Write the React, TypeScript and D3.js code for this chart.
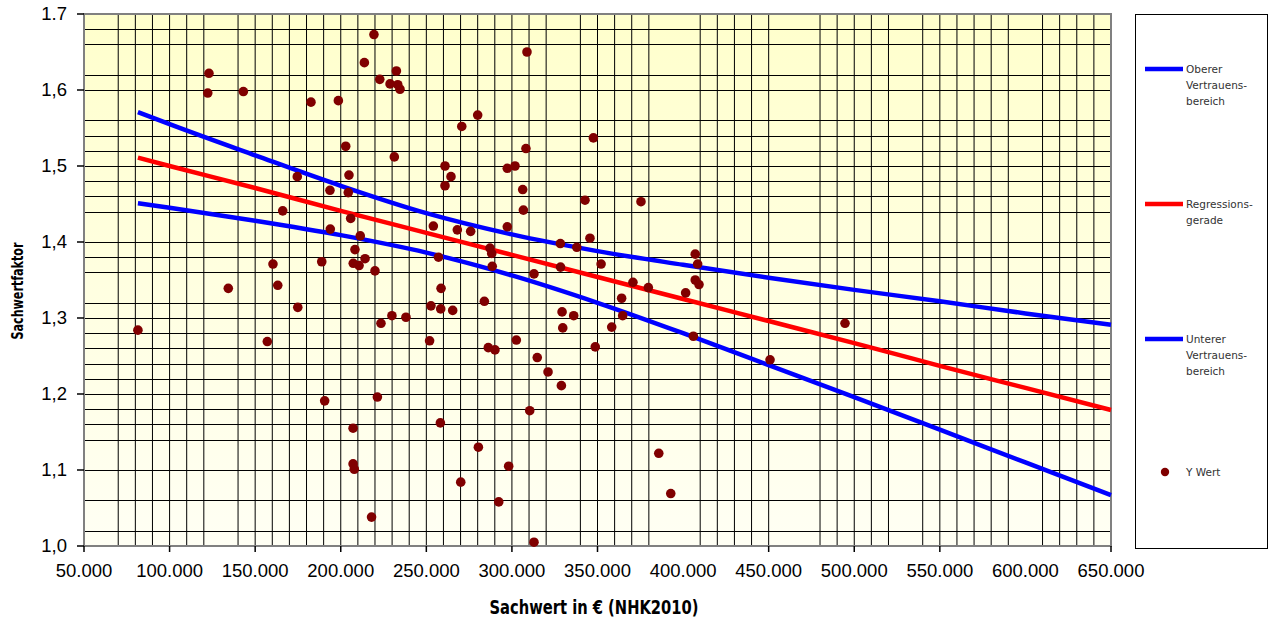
import React from 'react';
import * as d3 from 'd3';

// ---- data ----
const sachwert = [
  81500, 123000, 122300, 143100, 134300, 157100, 160400, 163200, 166100, 174600,
  174900, 182600, 188900, 190600, 193700, 193900, 198600, 219400, 213800, 232500,
  222800, 228800, 233300, 234600, 202900, 231300, 204800, 204400, 205800, 211400,
  208300, 214200, 207300, 210700, 220000, 252700, 223500, 229900, 238100, 251900,
  221400, 207200, 207200, 207900, 218000, 308800, 280000, 270700, 347600, 308200,
  260900, 264400, 260900, 297300, 301800, 306300, 306700, 342700, 375400, 254100,
  268100, 275900, 297300, 328300, 337900, 345600, 287200, 288200, 257100, 288500,
  328400, 352100, 407100, 408500, 312900, 258600, 258400, 265400, 283900, 370700,
  379700, 407100, 409300, 401500, 364100, 329300, 336100, 364700, 329700, 358300,
  406000, 302600, 286200, 290100, 348700, 314800, 321100, 328900, 310400, 258200,
  280400, 298100, 270100, 292300, 385800, 392800, 312900, 450800, 494600,
];
const faktor = [
  1.284, 1.622, 1.596, 1.598, 1.339, 1.269, 1.371, 1.343, 1.441, 1.486,
  1.314, 1.584, 1.374, 1.191, 1.468, 1.417, 1.586, 1.673, 1.636, 1.625,
  1.614, 1.608, 1.607, 1.601, 1.526, 1.512, 1.488, 1.465, 1.431, 1.408,
  1.390, 1.378, 1.372, 1.369, 1.362, 1.316, 1.293, 1.303, 1.301, 1.270,
  1.196, 1.155, 1.108, 1.101, 1.038, 1.650, 1.567, 1.552, 1.537, 1.523,
  1.500, 1.486, 1.474, 1.497, 1.500, 1.469, 1.442, 1.455, 1.453, 1.421,
  1.416, 1.414, 1.420, 1.398, 1.393, 1.405, 1.392, 1.385, 1.380, 1.368,
  1.367, 1.371, 1.384, 1.371, 1.358, 1.339, 1.312, 1.310, 1.322, 1.347,
  1.340, 1.350, 1.344, 1.333, 1.326, 1.308, 1.303, 1.303, 1.287, 1.288,
  1.276, 1.271, 1.261, 1.258, 1.262, 1.248, 1.229, 1.211, 1.178, 1.162,
  1.130, 1.105, 1.084, 1.058, 1.122, 1.069, 1.005, 1.245, 1.293,
];

const lineX = [81500, 100000, 150000, 200000, 250000, 300000, 350000, 400000, 450000, 500000, 550000, 600000, 650000];
const regression = [1.511, 1.500, 1.471, 1.441, 1.412, 1.383, 1.354, 1.325, 1.296, 1.267, 1.237, 1.208, 1.179];
const upperBound = [1.571, 1.555, 1.514, 1.474, 1.438, 1.410, 1.388, 1.370, 1.353, 1.337, 1.322, 1.306, 1.291];
const lowerBound = [1.451, 1.445, 1.428, 1.409, 1.386, 1.356, 1.320, 1.280, 1.238, 1.196, 1.153, 1.110, 1.067];

const xTickValues = [50000, 100000, 150000, 200000, 250000, 300000, 350000, 400000, 450000, 500000, 550000, 600000, 650000];
const xTickLabels = ['50.000', '100.000', '150.000', '200.000', '250.000', '300.000', '350.000', '400.000', '450.000', '500.000', '550.000', '600.000', '650.000'];
const xTickMarksHidden = [400000, 600000];
const yTickValues = [1.0, 1.1, 1.2, 1.3, 1.4, 1.5, 1.6, 1.7];
const yTickLabels = ['1,0', '1,1', '1,2', '1,3', '1,4', '1,5', '1,6', '1.7'];

const xGridStep = 10000;
const xGridMissing = [60000, 130000, 330000, 390000, 400000, 460000, 470000, 530000, 600000];
const yGridStep = 0.02;
const yGridMissing = [1.64, 1.58, 1.42, 1.34, 1.12, 1.08, 1.04];

const legendItems = [
  { kind: 'line', color: '#0000FF', lines: ['Oberer', 'Vertrauens-', 'bereich'] },
  { kind: 'line', color: '#FF0000', lines: ['Regressions-', 'gerade'] },
  { kind: 'line', color: '#0000FF', lines: ['Unterer', 'Vertrauens-', 'bereich'] },
  { kind: 'dot', color: '#800000', lines: ['Y Wert'] },
];
const legendY = [69, 204, 339, 472];

const W = 1270;
const H = 621;
const plot = { left: 84, right: 1111, top: 14, bottom: 546 };

export default function App() {
  const x = d3.scaleLinear().domain([50000, 650000]).range([plot.left, plot.right]);
  const y = d3.scaleLinear().domain([1.0, 1.7]).range([plot.bottom, plot.top]);

  const xGrid = d3
    .range(50000 + xGridStep, 650000, xGridStep)
    .filter((v) => !xGridMissing.some((m) => Math.abs(m - v) < 1));
  const yGrid = d3
    .range(0, 35)
    .map((k) => +(1.0 + k * yGridStep).toFixed(2))
    .filter((v) => v > 1.0 && !yGridMissing.some((m) => Math.abs(m - v) < 1e-6));

  const mkLine = (vals: number[]) =>
    d3
      .line<number>()
      .x((_, i) => x(lineX[i]))
      .y((d) => y(d))
      .curve(d3.curveMonotoneX)(vals) || '';

  const crisp = (v: number) => Math.round(v) + 0.5;

  const tickFont = "'Liberation Sans', Arial, sans-serif";
  const titleFont = "'Liberation Sans Narrow', 'DejaVu Sans Condensed', 'Arial Narrow', sans-serif";
  const legendFont = "'DejaVu Sans', Verdana, sans-serif";

  return (
    <svg width={W} height={H} style={{ position: 'absolute', left: 0, top: 0, background: '#fff' }}>
      <defs>
        <linearGradient id="bg" x1="0" y1="0" x2="0" y2="1">
          <stop offset="0%" stopColor="#FFFFCC" />
          <stop offset="100%" stopColor="#FFFFF4" />
        </linearGradient>
      </defs>
      <rect x={0} y={0} width={W} height={H} fill="#fff" />
      <rect x={plot.left} y={plot.top} width={plot.right - plot.left} height={plot.bottom - plot.top} fill="url(#bg)" />

      {/* grid */}
      <g stroke="#000" strokeWidth={1}>
        {xGrid.map((v) => (
          <line key={'gx' + v} x1={x(v)} x2={x(v)} y1={plot.top} y2={plot.bottom} />
        ))}
        {yGrid.map((v) => (
          <line key={'gy' + v} x1={plot.left} x2={plot.right} y1={crisp(y(v))} y2={crisp(y(v))} />
        ))}
      </g>

      {/* plot border */}
      <rect
        x={plot.left}
        y={plot.top}
        width={plot.right - plot.left}
        height={plot.bottom - plot.top}
        fill="none"
        stroke="#808080"
        strokeWidth={2}
      />

      {/* axes ticks */}
      <g stroke="#000" strokeWidth={1.5}>
        {yTickValues.map((v) => (
          <line key={'yt' + v} x1={plot.left - 7} x2={plot.left} y1={y(v)} y2={y(v)} />
        ))}
        {xTickValues
          .filter((v) => !xTickMarksHidden.includes(v))
          .map((v) => (
            <line key={'xt' + v} x1={x(v)} x2={x(v)} y1={plot.bottom} y2={plot.bottom + 6} />
          ))}
      </g>
      <g fontFamily={tickFont} fontSize={18.5} fill="#000">
        {yTickValues.map((v, i) => (
          <text key={'yl' + v} x={67} y={y(v)} dy="0.35em" textAnchor="end">
            {yTickLabels[i]}
          </text>
        ))}
        {xTickValues.map((v, i) => (
          <text key={'xl' + v} x={x(v)} y={577} textAnchor="middle">
            {xTickLabels[i]}
          </text>
        ))}
      </g>

      {/* axis titles */}
      <text
        x={594}
        y={614}
        textAnchor="middle"
        fontFamily={titleFont}
        fontWeight="bold"
        fontSize={19}
        textLength={209}
        lengthAdjust="spacingAndGlyphs"
      >
        Sachwert in € (NHK2010)
      </text>
      <text
        transform="translate(23,291) rotate(-90)"
        textAnchor="middle"
        fontFamily={titleFont}
        fontWeight="bold"
        fontSize={16}
        textLength={97}
        lengthAdjust="spacingAndGlyphs"
      >
        Sachwertfaktor
      </text>

      {/* regression and confidence lines */}
      <path d={mkLine(upperBound)} fill="none" stroke="#0000FF" strokeWidth={4.5} />
      <path d={mkLine(regression)} fill="none" stroke="#FF0000" strokeWidth={4.5} />
      <path d={mkLine(lowerBound)} fill="none" stroke="#0000FF" strokeWidth={4.5} />

      {/* points */}
      <g fill="#800000">
        {sachwert.map((v, i) => (
          <circle key={'p' + i} cx={x(v)} cy={y(faktor[i])} r={4.8} />
        ))}
      </g>

      {/* legend */}
      <rect x={1135.5} y={14.5} width={132} height={534} fill="#fff" stroke="#000" strokeWidth={1} />
      <g fontFamily={legendFont} fontSize={10.5} fill="#333">
        {legendItems.map((it, i) => (
          <g key={'lg' + i}>
            {it.kind === 'line' ? (
              <line x1={1145} x2={1183} y1={legendY[i]} y2={legendY[i]} stroke={it.color} strokeWidth={4.5} />
            ) : (
              <circle cx={1165} cy={legendY[i]} r={4.2} fill={it.color} />
            )}
            {it.lines.map((t, j) => (
              <text key={j} x={1186} y={legendY[i] + j * 16} dy="0.35em">
                {t}
              </text>
            ))}
          </g>
        ))}
      </g>
    </svg>
  );
}
